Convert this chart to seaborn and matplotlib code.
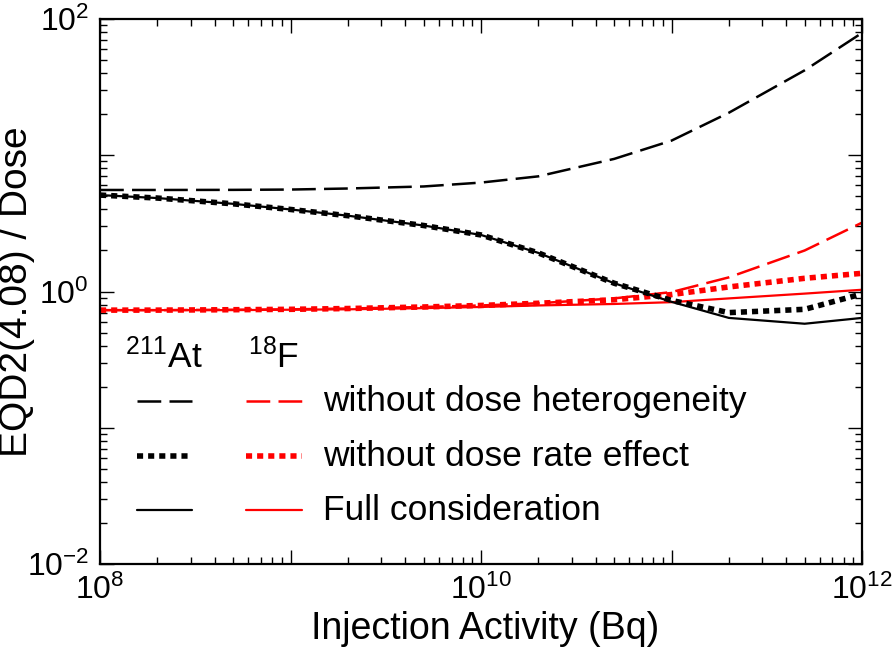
import numpy as np
import pandas as pd
import seaborn as sns
import matplotlib.pyplot as plt
from matplotlib.lines import Line2D
from matplotlib.ticker import LogLocator, FuncFormatter, NullFormatter

# injection activity (Bq) and EQD2/Dose
activity = [1e8, 2e8, 5e8, 1e9, 2e9, 5e9, 1e10, 2e10, 5e10, 1e11, 2e11, 5e11, 1e12]

at_no_het = [5.56, 5.56, 5.57, 5.6, 5.7, 5.9, 6.3, 7.0, 9.4, 12.8, 20.5, 42.0, 79.0]
at_no_rate = [5.1, 4.85, 4.4, 4.0, 3.6, 3.05, 2.6, 1.92, 1.15, 0.86, 0.70, 0.74, 0.96]
at_full = [5.1, 4.85, 4.4, 4.0, 3.6, 3.05, 2.6, 1.92, 1.15, 0.84, 0.64, 0.58, 0.64]

f_no_het = [0.73, 0.73, 0.735, 0.74, 0.75, 0.77, 0.79, 0.82, 0.89, 0.99, 1.27, 2.0, 3.2]
f_no_rate = [0.73, 0.73, 0.735, 0.74, 0.75, 0.77, 0.79, 0.82, 0.87, 0.95, 1.08, 1.25, 1.36]
f_full = [0.73, 0.73, 0.73, 0.735, 0.74, 0.755, 0.77, 0.79, 0.81, 0.835, 0.89, 0.965, 1.03]

conditions = ["without dose heterogeneity", "without dose rate effect", "Full consideration"]

rows = []
for nuc, series in [("At", [at_no_het, at_no_rate, at_full]),
                    ("F", [f_no_het, f_no_rate, f_full])]:
    for cond, vals in zip(conditions, series):
        for a, v in zip(activity, vals):
            rows.append({"activity": a, "ratio": v, "nuclide": nuc, "condition": cond})
df = pd.DataFrame(rows)

sns.set_theme(style="ticks")
plt.rcParams["font.family"] = ["Liberation Sans", "DejaVu Sans"]
plt.rcParams["text.color"] = "black"
plt.rcParams["mathtext.fontset"] = "custom"
plt.rcParams["mathtext.rm"] = "Liberation Sans"
plt.rcParams["mathtext.it"] = "Liberation Sans:italic"
plt.rcParams["mathtext.bf"] = "Liberation Sans:bold"

palette = {"At": "black", "F": "red"}
dashes = {conditions[0]: (9.5, 3.3), conditions[1]: (1.1, 0.9), conditions[2]: ""}
sizes = {conditions[0]: 1.8, conditions[1]: 4.0, conditions[2]: 1.6}

fig = plt.figure(figsize=(8.94, 6.61), dpi=100)
ax = fig.add_axes([0.1119, 0.1467, 0.8523, 0.8246])

# full consideration first so the dotted lines sit on top
order = [conditions[2], conditions[0], conditions[1]]
for nuc in ["F", "At"]:
    for cond in order:
        sub = df[(df.nuclide == nuc) & (df.condition == cond)]
        sns.lineplot(data=sub, x="activity", y="ratio", ax=ax, color=palette[nuc],
                     linewidth=sizes[cond], dashes=False, estimator=None,
                     legend=False, sort=True)
        line = ax.lines[-1]
        if dashes[cond]:
            line.set_dashes(dashes[cond])
        line.set_dash_capstyle("butt")

ax.set_xscale("log")
ax.set_yscale("log")
ax.set_xlim(1e8, 1e12)
ax.set_ylim(1e-2, 1e2)

def even_decades(v, pos):
    e = int(round(np.log10(v)))
    if e % 2:
        return ""
    return r"$10^{%d}$" % e

for axis in (ax.xaxis, ax.yaxis):
    axis.set_major_locator(LogLocator(base=10, numticks=20))
    axis.set_minor_locator(LogLocator(base=10, subs=np.arange(2, 10), numticks=50))
    axis.set_major_formatter(FuncFormatter(even_decades))
    axis.set_minor_formatter(NullFormatter())

ax.tick_params(which="both", direction="in", top=True, right=True, width=1.0,
               color="black", labelsize=23, labelcolor="black")
ax.tick_params(which="major", length=10, pad=8)
ax.tick_params(which="minor", length=5)
for s in ax.spines.values():
    s.set_linewidth(1.6)
    s.set_color("black")

ax.set_xlabel("Injection Activity (Bq)", fontsize=27, color="black")
ax.xaxis.set_label_coords(0.505, -0.086)
ax.set_ylabel("EQD2(4.08) / Dose", fontsize=28, color="black")
ax.yaxis.set_label_coords(-0.085, 0.5)

# hand-made two-column legend
ax.text(0.033, 0.36, r"$^{211}$At", transform=ax.transAxes, fontsize=25.5, va="baseline")
ax.text(0.194, 0.36, r"$^{18}$F", transform=ax.transAxes, fontsize=25.5, va="baseline")
rows_y = [0.299, 0.198, 0.099]
for cond, yy in zip(conditions, rows_y):
    for nuc, (x0, x1) in [("At", (0.0486, 0.1207)), ("F", (0.1916, 0.2651))]:
        ln = Line2D([x0, x1], [yy, yy], transform=ax.transAxes, color=palette[nuc],
                    linewidth=sizes[cond], dash_capstyle="butt")
        if dashes[cond]:
            ln.set_dashes(dashes[cond])
        ax.add_line(ln)
    ax.text(0.2927, yy, cond, transform=ax.transAxes, fontsize=25.5, va="center")

fig.savefig("out.png", dpi=100)
